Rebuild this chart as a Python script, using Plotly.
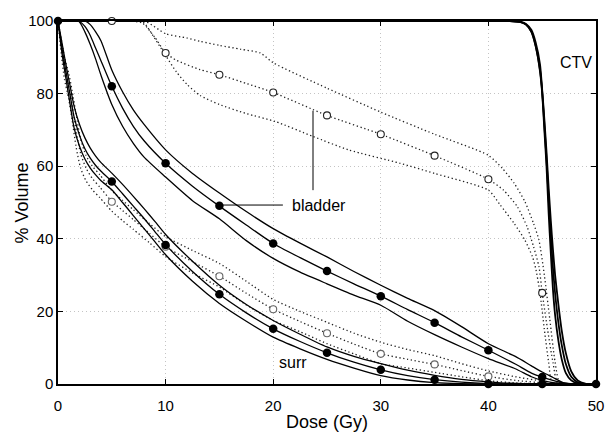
import plotly.graph_objects as go

# ---------------- data ----------------
# surr, solid (3 curves)
surr_dose = [0, 0.4, 0.8, 1.1, 1.5, 2, 2.5, 3, 3.5, 4, 5, 6, 7, 8, 9, 10, 12.5, 15, 17.5, 20,
             22.5, 25, 27.5, 30, 32.5, 35, 37.5, 40, 42, 45, 50]
surr_mid = [100, 92, 85, 80, 73.5, 68.5, 64.8, 62.2, 60.2, 58.6, 55.8, 52.4, 49, 45.6, 42, 38.4,
            31, 24.7, 19.6, 15.2, 11.7, 8.6, 6, 3.9, 2.3, 1.2, 0.5, 0.1, 0, 0, 0]
surr_hi = [100, 93.5, 87, 82.5, 76.5, 71.5, 67.8, 65, 62.8, 61, 58.1, 55, 51.7, 48.3, 44.8, 41.2,
           33.8, 27.2, 21.9, 17.5, 13.7, 10.2, 7.6, 5.6, 3.8, 2.4, 1.3, 0.6, 0.2, 0, 0]
surr_lo = [100, 90.5, 83, 77.5, 70.5, 65.5, 62, 59.5, 57.6, 56, 53.5, 50, 46.4, 42.8, 39.2, 35.6,
           28.3, 22.2, 17.3, 12.9, 9.7, 6.8, 4.4, 2.3, 1.1, 0.4, 0.1, 0, 0, 0, 0]

# surr, dotted (3 curves)
surrd_dose = [0, 0.3, 0.6, 1.0, 1.3, 1.7, 2.1, 2.6, 3.2, 3.9, 5, 6, 7, 8.5, 10, 12.5, 15, 17.5, 20,
              22.5, 25, 27.5, 30, 32.5, 35, 37.5, 40, 42.5, 45, 46, 50]
surrd_mid = [100, 93, 87, 82, 77, 69.5, 63.5, 59.5, 56.6, 54.2, 50.3, 47.8, 45.3, 41.5, 37.8, 33.7, 29.7,
             25, 20.6, 17.2, 14, 11, 8.3, 6.8, 5.4, 3.7, 2.1, 1, 0.3, 0, 0]
surrd_hi = [100, 95, 90, 85.5, 81, 74, 67.5, 63, 60, 57.6, 53.3, 50.6, 48, 44.2, 40.6, 36.8, 33.2,
            28.3, 23.3, 20, 17, 14, 11.5, 9.5, 7.8, 5.6, 3.6, 2, 0.8, 0.2, 0]
surrd_lo = [100, 91, 84, 78.5, 73, 65, 59.5, 56, 53.5, 51.3, 47.6, 45, 42.6, 38.9, 35.1, 30.6, 26.7,
            21.8, 17.5, 14.4, 11.1, 8.3, 5.6, 4.4, 3.2, 2, 0.9, 0.3, 0, 0, 0]

# bladder, solid (3 curves)
bl_dose = [0, 1.9, 2.5, 3, 3.5, 4, 5, 6, 7, 8, 10, 12.5, 15, 17.5, 20, 22.5, 25, 27.5, 30, 32.5, 35,
           37.5, 40, 42.5, 44, 45, 46, 47, 48, 50]
bl_mid = [100, 100, 98.5, 96, 92.5, 89, 82, 76, 71, 67, 60.8, 54.5, 49, 43.8, 38.7, 34.8, 31.1, 27.6,
          24.2, 20.5, 16.9, 13, 9.3, 5.5, 3, 1.9, 1, 0.3, 0, 0]
bl_hi = [100, 100, 100, 99, 97, 94.5, 86.5, 80.5, 75.5, 71.5, 64.5, 58, 52.6, 47.5, 42.8, 38.8, 35,
         31, 27.2, 23.6, 20.2, 15.8, 11.1, 7.6, 5, 3.3, 1.8, 0.3, 0, 0]
bl_lo = [100, 100, 97, 93.5, 89.5, 85, 77, 71, 66.3, 62.5, 57, 50.5, 45.5, 39.5, 34.6, 30.8, 27.6,
         24.5, 21.7, 17.3, 13.6, 10.2, 7, 4.2, 2, 1, 0.4, 0.1, 0, 0]

# bladder, dotted (3 curves)
bld_hi_dose = [0, 8, 10, 12, 13.2, 15, 17, 18.8, 20, 25, 30, 35, 40, 41.3, 42.4, 43.4, 44.2,
               44.7, 45.2, 45.7, 46.2, 46.7, 50]
bld_hi = [100, 100, 96.5, 95.3, 94.4, 93.3, 92.2, 91.2, 88.5, 81.5, 74.9, 68.8, 63, 59.4, 55.3,
          50.2, 44.2, 39.6, 30, 18, 6, 0, 0]
bld_mid_dose = [0, 5, 7.8, 9, 10, 11, 13.2, 15, 17.5, 20, 25, 30, 35, 40, 41.4, 42.7, 43.6, 44.2,
                44.7, 45, 45.5, 46, 46.5, 50]
bld_mid = [100, 100, 99.5, 95.5, 91.2, 89.2, 86.6, 85.2, 82.8, 80.3, 74, 68.8, 62.9, 56.4, 53.4, 48.8,
           43.3, 37.8, 32.3, 25.1, 15, 6, 0, 0]
bld_lo_dose = [0, 7.8, 8.6, 10, 11, 12, 13.2, 15, 17.5, 20.2, 23.7, 27, 31.8, 35, 40, 41.1, 42.4, 43.4,
               44.1, 44.4, 44.8, 45.2, 45.6, 46, 50]
bld_lo = [100, 100, 97, 90.5, 86, 82.5, 79.5, 77, 74.5, 72.3, 68.2, 64.5, 60.8, 58, 53.4, 49.3, 44.2,
          39.6, 35, 31.8, 25, 15, 6, 0, 0]

# CTV, solid (3 curves)
ctv_dose = [0, 42, 43, 43.5, 44, 44.4, 44.8, 45, 45.2, 45.4, 45.6, 45.8, 46, 46.2, 46.5, 46.8, 47.2,
            47.7, 48.3, 49, 50]
ctv_a = [100, 100, 99.7, 99, 97, 93, 86, 80, 70, 60, 47, 36, 26, 19, 12, 7, 3, 1, 0.2, 0, 0]
ctv_b = [100, 100, 99.7, 99, 97, 93, 86.5, 80.5, 71.5, 62, 51, 41, 32, 25, 17, 11, 5.5, 2, 0.5, 0, 0]
ctv_c = [100, 100, 99.8, 99.2, 97.5, 94, 88, 81, 73, 64, 54, 45, 37, 30, 22, 15, 8.5, 3.5, 1, 0.1, 0]

# marker points
surr_mark_dose = [0, 5, 10, 15, 20, 25, 30, 35, 40, 45, 50]
surr_mark_vol = [100, 55.8, 38.3, 24.7, 15.2, 8.6, 3.9, 1.2, 0, 0, 0]
bl_mark_dose = [5, 10, 15, 20, 25, 30, 35, 40, 45]
bl_mark_vol = [82, 60.8, 49.1, 38.7, 31.1, 24.2, 16.9, 9.3, 1.9]
surrd_mark_dose = [5, 10, 15, 20, 25, 30, 35, 40]
surrd_mark_vol = [50.2, 37.8, 29.7, 20.6, 14, 8.3, 5.4, 2.1]
bld_mark_dose = [5, 10, 15, 20, 25, 30, 35, 40, 45]
bld_mark_vol = [100, 91.2, 85.2, 80.3, 74, 68.8, 62.9, 56.4, 25.1]

x_ticks = [0, 10, 20, 30, 40, 50]
y_ticks = [0, 20, 40, 60, 80, 100]

# ---------------- figure ----------------
FONT = "Liberation Sans, Arial, Helvetica, sans-serif"
fig = go.Figure()


def curve(x, y, dotted=False, width=1.3):
    fig.add_trace(go.Scatter(
        x=x, y=y, mode="lines", showlegend=False, hoverinfo="skip", cliponaxis=False,
        line=dict(color="#222" if dotted else "black", width=1.3 if dotted else width,
                  dash="1.3px,2.6px" if dotted else "solid", shape="spline", smoothing=0.6)))


curve(bld_hi_dose, bld_hi, dotted=True)
curve(bld_mid_dose, bld_mid, dotted=True)
curve(bld_lo_dose, bld_lo, dotted=True)
for yy in (surrd_hi, surrd_mid, surrd_lo):
    curve(surrd_dose, yy, dotted=True)
for yy in (surr_hi, surr_mid, surr_lo):
    curve(surr_dose, yy)
for yy in (bl_hi, bl_mid, bl_lo):
    curve(bl_dose, yy)
for yy in (ctv_a, ctv_b, ctv_c):
    curve(ctv_dose, yy, width=1.8)

# open markers (dotted series)
for xs, ys, col in ((bld_mark_dose, bld_mark_vol, "#222"), (surrd_mark_dose, surrd_mark_vol, "#666")):
    fig.add_trace(go.Scatter(
        x=xs, y=ys, mode="markers", showlegend=False, hoverinfo="skip", cliponaxis=False,
        marker=dict(symbol="circle", size=7, color="white", line=dict(color=col, width=1.1))))
# filled markers (solid series)
for xs, ys in ((surr_mark_dose, surr_mark_vol), (bl_mark_dose, bl_mark_vol)):
    fig.add_trace(go.Scatter(
        x=xs, y=ys, mode="markers", showlegend=False, hoverinfo="skip", cliponaxis=False,
        marker=dict(symbol="circle", size=8.5, color="black", line=dict(width=0))))

# leader lines for "bladder"
fig.add_shape(type="line", x0=23.7, x1=23.7, y0=75.3, y1=53.4, line=dict(color="black", width=1))
fig.add_shape(type="line", x0=15.3, x1=20.9, y0=49.3, y1=49.3, line=dict(color="black", width=1))

fig.add_annotation(x=21.6, y=49.3, text="bladder", showarrow=False, xanchor="left",
                   font=dict(family=FONT, size=16, color="black"))
fig.add_annotation(x=46.5, y=88.5, text="CTV", showarrow=False, xanchor="left",
                   font=dict(family=FONT, size=16, color="black"))
fig.add_annotation(x=21.8, y=5.9, text="surr", showarrow=False,
                   font=dict(family=FONT, size=16, color="black"))

# axis titles
fig.add_annotation(xref="paper", yref="paper", x=0.5, y=-0.105, yanchor="middle",
                   text="Dose (Gy)", showarrow=False,
                   font=dict(family=FONT, size=18, color="black"))
fig.add_annotation(xref="paper", yref="paper", x=-0.067, y=0.5, xanchor="center", yanchor="middle",
                   text="% Volume", textangle=-90, showarrow=False,
                   font=dict(family=FONT, size=18, color="black"))

axis_common = dict(
    showline=True, linecolor="black", linewidth=1.5, mirror="ticks",
    ticks="inside", ticklen=5, tickcolor="black", tickwidth=1,
    showgrid=True, gridcolor="#c4c4c4", griddash="1px,3px", gridwidth=1,
    zeroline=False, automargin=False,
    tickfont=dict(family=FONT, size=15, color="black"),
)
fig.update_xaxes(range=[0, 50], tickvals=x_ticks, ticklabelstandoff=7, **axis_common)
fig.update_yaxes(range=[0, 100], tickvals=y_ticks, ticklabelstandoff=0, **axis_common)

fig.update_layout(
    width=605, height=432,
    margin=dict(l=58, r=9, t=21, b=48, pad=0),
    paper_bgcolor="white", plot_bgcolor="white",
    font=dict(family=FONT, color="black"),
)

fig.write_html("out.html")
